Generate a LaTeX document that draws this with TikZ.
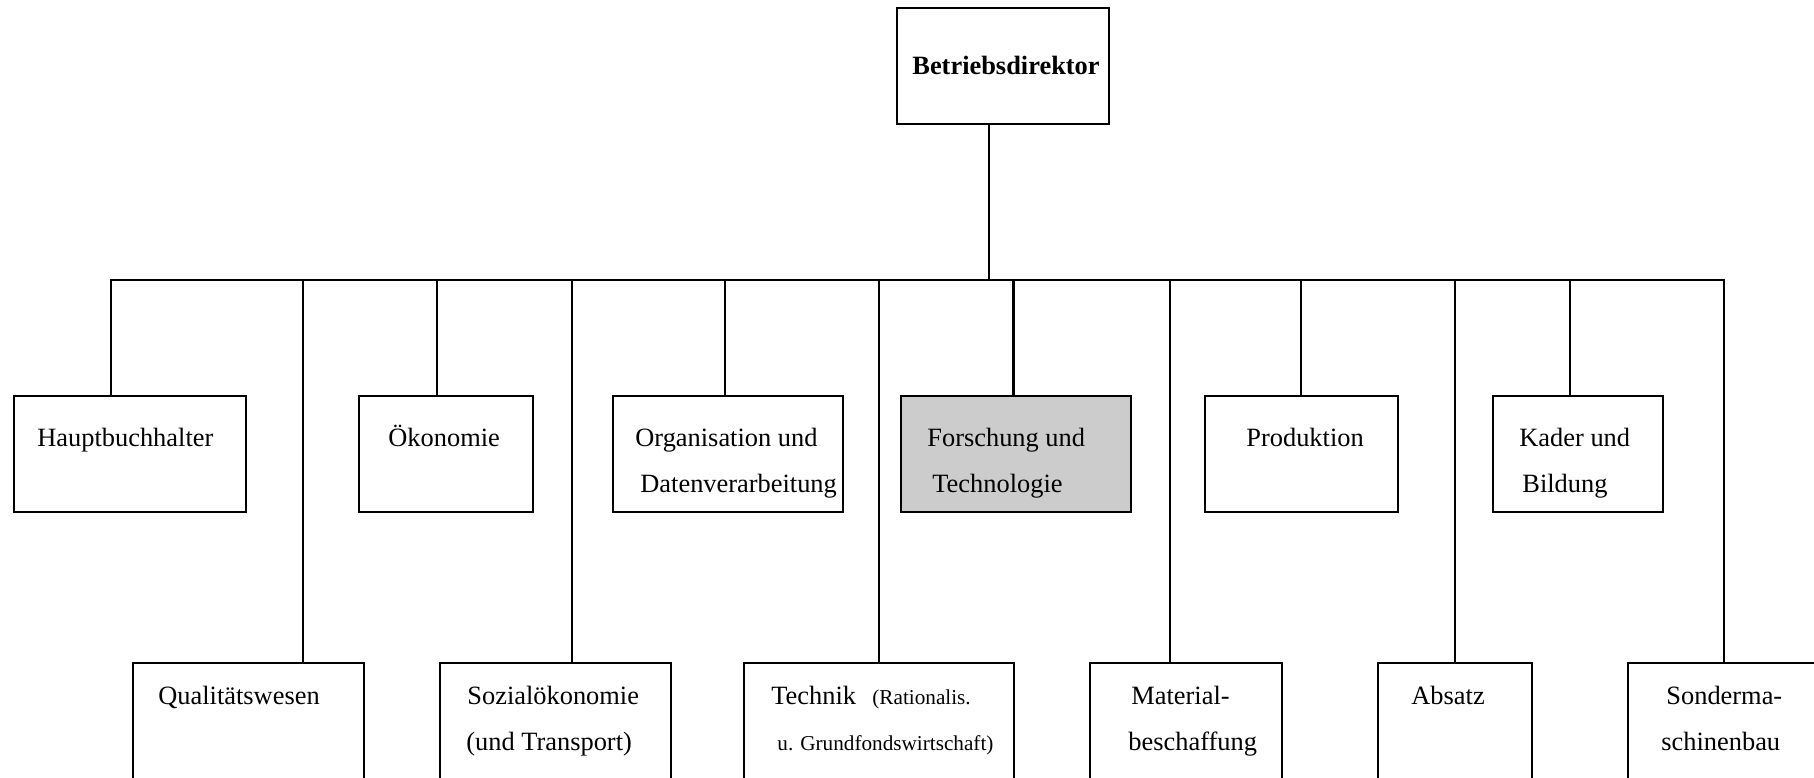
\documentclass[tikz,border=0pt]{standalone}
\usepackage{fontspec}
\setmainfont{Liberation Serif}
\usetikzlibrary{fit}
\definecolor{boxgray}{HTML}{CCCCCC}
\tikzset{
  orgbox/.style={draw, line width=1pt, inner sep=0pt, rectangle},
  thickbox/.style={orgbox, line width=1.4pt},
  conn/.style={line width=1.1pt, line join=miter},
  lbl/.style={anchor=base west, inner sep=0pt, font=\fontsize{13.2}{16}\selectfont},
  sml/.style={anchor=base west, inner sep=0pt, font=\fontsize{10.6}{13}\selectfont},
}
\begin{document}
\begin{tikzpicture}[x=0.5pt,y=-0.5pt]
\useasboundingbox (0,0) rectangle (1814,777);

% boxes
\node[thickbox, fit={(897,8) (1109,124)}] (top) {};
\node[thickbox, fit={(14,396) (246,512)}] (hb) {};
\node[thickbox, fit={(359,396) (533,512)}] (oek) {};
\node[orgbox, fit={(613,396) (843,512)}] (org) {};
\node[orgbox, fill=boxgray, fit={(901,396) (1131,512)}] (fors) {};
\node[orgbox, fit={(1205,396) (1398,512)}] (prod) {};
\node[orgbox, fit={(1493,396) (1663,512)}] (kad) {};
\node[orgbox, fit={(133,663) (364,800)}] (qual) {};
\node[orgbox, fit={(440,663) (671,800)}] (soz) {};
\node[orgbox, fit={(744,663) (1014,800)}] (tech) {};
\node[orgbox, fit={(1090,663) (1282,800)}] (mat) {};
\node[orgbox, fit={(1378,663) (1532,800)}] (abs) {};
\node[orgbox, fit={(1628,663) (1840,800)}] (son) {};

% texts
\node[lbl, font=\fontsize{13.2}{16}\selectfont\bfseries] (top-t) at (912,74) {Betriebsdirektor};
\node[lbl] (hb-t) at (37,446) {Hauptbuchhalter};
\node[lbl] (oek-t) at (388,446) {Ökonomie};
\node[lbl] (org-t1) at (635,446) {Organisation und};
\node[lbl] (org-t2) at (640,492) {Datenverarbeitung};
\node[lbl] (fors-t1) at (927,446) {Forschung und};
\node[lbl] (fors-t2) at (932,492) {Technologie};
\node[lbl] (prod-t) at (1246,446) {Produktion};
\node[lbl] (kad-t1) at (1519,446) {Kader und};
\node[lbl] (kad-t2) at (1522,492) {Bildung};
\node[lbl] (qual-t) at (158,704) {Qualitätswesen};
\node[lbl] (soz-t1) at (467,704) {Sozialökonomie};
\node[lbl] (soz-t2) at (466,750) {(und Transport)};
\node[lbl] (tech-t1) at (771,704) {Technik};
\node[sml] (tech-t2) at (872,704) {(Rationalis.};
\node[sml] (tech-t3) at (777,750) {u. Grundfondswirtschaft)};
\node[lbl] (mat-t1) at (1131,704) {Material-};
\node[lbl] (mat-t2) at (1128,750) {beschaffung};
\node[lbl] (abs-t) at (1411,704) {Absatz};
\node[lbl] (son-t1) at (1666,704) {Sonderma-};
\node[lbl] (son-t2) at (1661,750) {schinenbau};

% bus coordinates
\coordinate (bhb) at (110.7,280);
\coordinate (bqual) at (303,280);
\coordinate (boek) at (437,280);
\coordinate (bsoz) at (572,280);
\coordinate (borg) at (725,280);
\coordinate (btech) at (879,280);
\coordinate (btop) at (989,280);
\coordinate (bfors) at (1013.5,280);
\coordinate (bmat) at (1170,280);
\coordinate (bprod) at (1301,280);
\coordinate (babs) at (1455,280);
\coordinate (bkad) at (1570,280);
\coordinate (bson) at (1724,280);

% connectors
\draw[conn] (bhb |- hb.north) -- (bhb) -- (bson) -- (bson |- son.north);
\draw[conn] (btop |- top.south) -- (btop);
\draw[conn] (bqual) -- (bqual |- qual.north);
\draw[conn] (boek) -- (boek |- oek.north);
\draw[conn] (bsoz) -- (bsoz |- soz.north);
\draw[conn] (borg) -- (borg |- org.north);
\draw[conn] (btech) -- (btech |- tech.north);
\draw[conn] (bfors) -- (bfors |- fors.north);
\draw[conn] (bmat) -- (bmat |- mat.north);
\draw[conn] (bprod) -- (bprod |- prod.north);
\draw[conn] (babs) -- (babs |- abs.north);
\draw[conn] (bkad) -- (bkad |- kad.north);
\end{tikzpicture}
\end{document}
